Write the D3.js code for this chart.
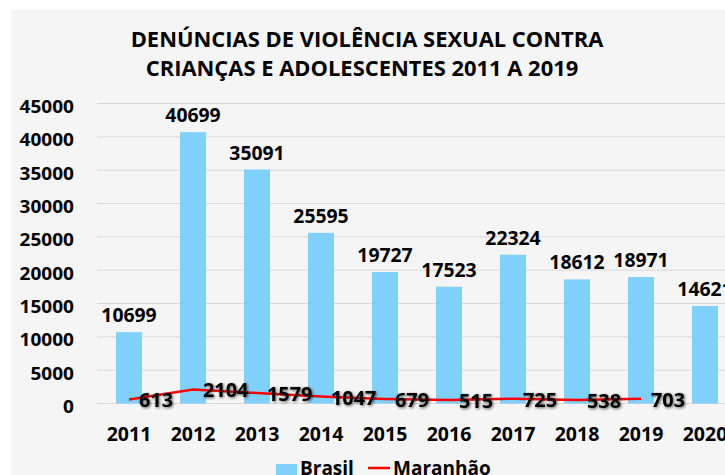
<!DOCTYPE html>
<html>
<head>
<meta charset="utf-8">
<script src="https://cdn.jsdelivr.net/npm/d3@7"></script>
<style>
  body { margin: 0; background: #fff; }
  #chart { width: 725px; height: 475px; }
</style>
</head>
<body>
<div id="chart"></div>
<script>
// Data
const years = ["2011", "2012", "2013", "2014", "2015", "2016", "2017", "2018", "2019", "2020"];
const brasil = [10699, 40699, 35091, 25595, 19727, 17523, 22324, 18612, 18971, 14621];
const maranhao = [613, 2104, 1579, 1047, 679, 515, 725, 538, 703];
const yTicks = [0, 5000, 10000, 15000, 20000, 25000, 30000, 35000, 40000, 45000];
const titleLines = ["DENÚNCIAS DE VIOLÊNCIA SEXUAL CONTRA", "CRIANÇAS E ADOLESCENTES 2011 A 2019"];

const W = 725, H = 475;
const font = "'Open Sans', sans-serif";

const svg = d3.select("#chart").append("svg")
    .attr("width", W)
    .attr("height", H);

// soft shadow behind the line labels
const defs = svg.append("defs");
const f = defs.append("filter").attr("id", "glow")
    .attr("x", "-20%").attr("y", "-40%").attr("width", "140%").attr("height", "180%");
f.append("feGaussianBlur").attr("in", "SourceAlpha").attr("stdDeviation", 1.5).attr("result", "b");
f.append("feOffset").attr("in", "b").attr("dx", 1).attr("dy", 1).attr("result", "o");
f.append("feComponentTransfer").attr("in", "o").attr("result", "s")
    .append("feFuncA").attr("type", "linear").attr("slope", 0.65);
const fm = f.append("feMerge");
fm.append("feMergeNode").attr("in", "s");
fm.append("feMergeNode").attr("in", "SourceGraphic");

// chart background
svg.append("rect")
    .attr("x", 11).attr("y", 10)
    .attr("width", W - 11).attr("height", H - 10)
    .attr("fill", "#f5f5f5");

const x = d3.scaleBand().domain(years).range([97, 737]);
const y = d3.scaleLinear().domain([0, 45000]).range([403.5, 103.5]);
const cx = yr => x(yr) + x.bandwidth() / 2;

// bold text, optionally widened a little
function stext(g, px, py, txt, size, anchor, sx) {
    return g.append("text")
        .attr("transform", `translate(${px},${py}) scale(${sx || 1},1)`)
        .attr("text-anchor", anchor)
        .attr("font-family", font)
        .attr("font-weight", 700)
        .attr("font-size", size)
        .attr("fill", "#000")
        .text(txt);
}

// gridlines
svg.append("g").selectAll("line")
    .data(yTicks)
    .enter().append("line")
    .attr("x1", 97).attr("x2", W)
    .attr("y1", d => y(d)).attr("y2", d => y(d))
    .attr("stroke", "#d9d9d9").attr("stroke-width", 1);

// y tick labels
const yl = svg.append("g");
yTicks.forEach(t => stext(yl, 74, y(t) + 9.5, t, 17, "end", 1.12));

// bars
const bw = 26;
svg.append("g").selectAll("rect")
    .data(brasil)
    .enter().append("rect")
    .attr("x", (d, i) => cx(years[i]) - bw / 2)
    .attr("y", d => y(d))
    .attr("width", bw)
    .attr("height", d => y(0) - y(d))
    .attr("fill", "#7fd1fc");

// bar labels
const bl = svg.append("g");
brasil.forEach((v, i) => stext(bl, cx(years[i]), y(v) - 10, v, 19, "middle", 1.02));

// Maranhão line
const line = d3.line()
    .x((d, i) => cx(years[i]))
    .y(d => y(d));
svg.append("path")
    .datum(maranhao)
    .attr("d", line)
    .attr("fill", "none")
    .attr("stroke", "#ff0000")
    .attr("stroke-width", 2.5);

// line labels
const ll = svg.append("g").attr("filter", "url(#glow)");
maranhao.forEach((v, i) => stext(ll, cx(years[i]) + 10, y(v) + 8, v, 19.5, "start", 1.02));

// x axis labels
const xl = svg.append("g");
years.forEach(yr => stext(xl, cx(yr), 441, yr, 19.5, "middle", 1.0));

// title
const tg = svg.append("g");
stext(tg, 367, 46.5, titleLines[0], 21.5, "middle", 1.02);
stext(tg, 362, 75.5, titleLines[1], 21.5, "middle", 1.02);

// legend
const lg = svg.append("g");
lg.append("rect").attr("x", 276).attr("y", 464).attr("width", 21).attr("height", 21).attr("fill", "#7fd1fc");
stext(lg, 300, 475, "Brasil", 19, "start", 1.0);
lg.append("line").attr("x1", 368).attr("x2", 390).attr("y1", 468).attr("y2", 468)
    .attr("stroke", "#ff0000").attr("stroke-width", 2.5);
stext(lg, 393, 475, "Maranhão", 19, "start", 1.0);
</script>
</body>
</html>
